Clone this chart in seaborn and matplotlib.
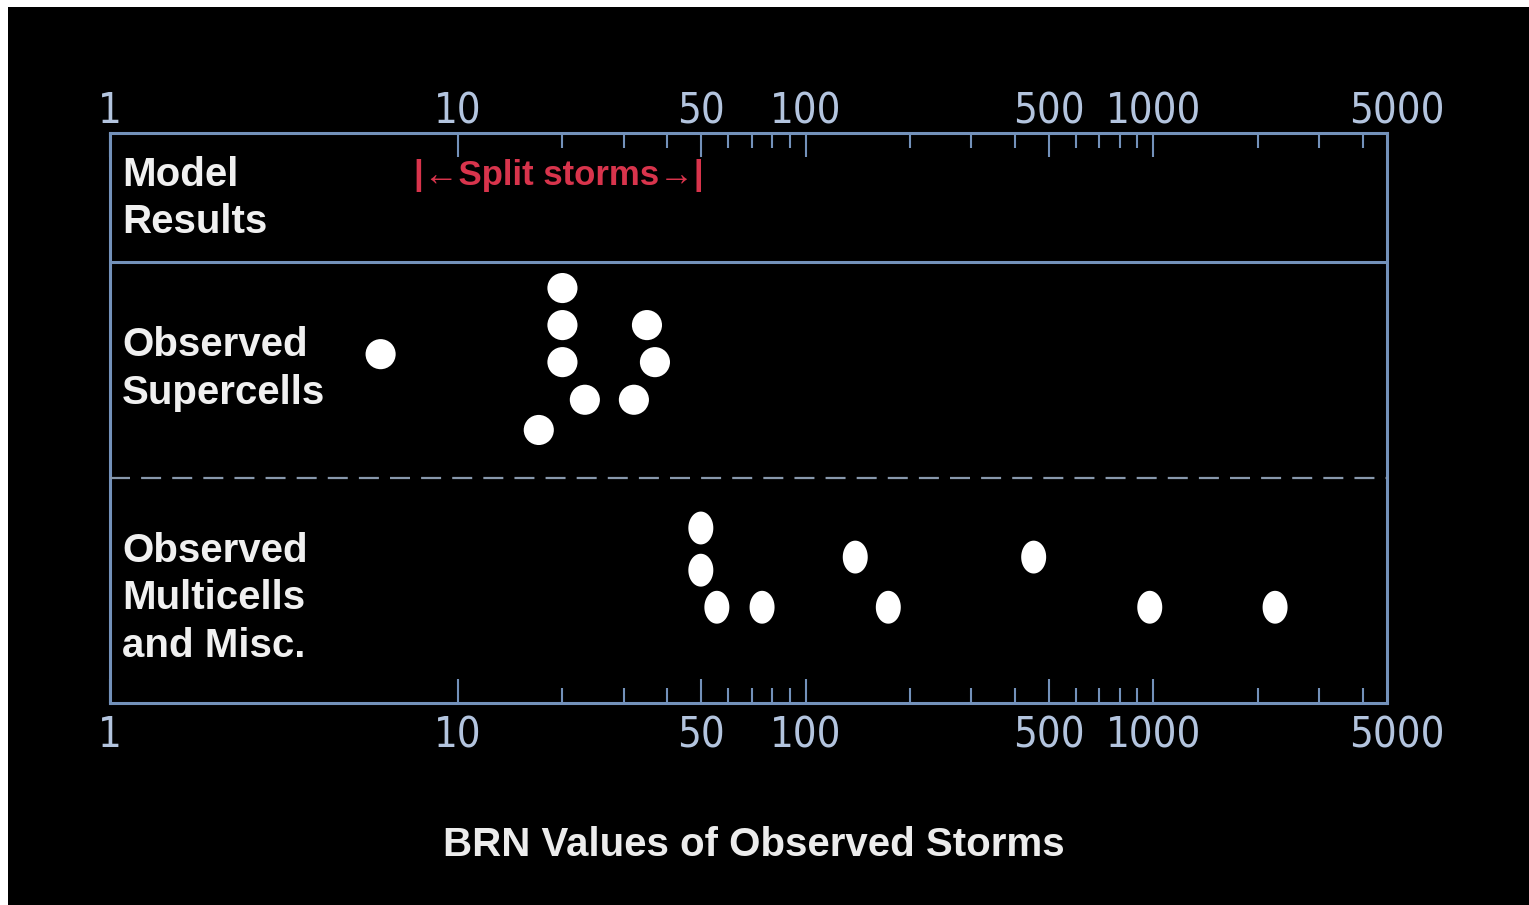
import numpy as np
import pandas as pd
import matplotlib
matplotlib.use("Agg")
import matplotlib.pyplot as plt
from matplotlib.path import Path
from matplotlib.patches import Rectangle
from matplotlib import font_manager as fm
import seaborn as sns

# ---- data ----
super_brn = [6.0, 20, 20, 20, 23.2, 17.1, 35, 36.9, 32.1]
super_lvl = [6.12, 7.28, 6.63, 5.98, 5.32, 4.79, 6.63, 5.98, 5.32]
multi_brn = [50, 50, 55.6, 75, 139, 173, 453, 977, 2240]
multi_lvl = [3.07, 2.33, 1.68, 1.68, 2.56, 1.68, 2.56, 1.68, 1.68]
row_labels = ["Model\nResults", "Observed\nSupercells", "Observed\nMulticells\nand Misc."]
row_centers = [8.85, 5.86, 1.84]
row_solid_sep = 7.74
row_dash_sep = 3.95
major_ticks = [1, 10, 50, 100, 500, 1000]
major_labels = ["1", "10", "50", "100", "500", "1000"]
end_tick, end_label = 5000, "5000"
minor_ticks = [20, 30, 40, 60, 70, 80, 90, 200, 300, 400, 600, 700, 800, 900, 2000, 3000, 4000]
split_label = "|\u2190Split storms\u2192|"
split_center = (19.5, 9.26)
xlabel = "BRN Values of Observed Storms"

sns.set_theme(style="dark")
plt.rcParams['font.family'] = ['Liberation Sans', 'DejaVu Sans']

# narrow font for the tick labels if one is installed
names = {f.name for f in fm.fontManager.ttflist}
cond = [f for f in fm.fontManager.ttflist
        if f.name == 'DejaVu Sans' and 'ondensed' in str(f.stretch) + f.fname and 'Bold' not in f.fname
        and 'Oblique' not in f.fname]
if 'Liberation Sans Narrow' in names:
    tick_font = dict(family='Liberation Sans Narrow', size=31)
elif cond:
    tick_font = dict(fname=cond[0].fname, size=30)
else:
    tick_font = dict(family='Liberation Sans', size=27)
tick_fp = fm.FontProperties(**tick_font)

W, H = 1529, 905
fig = plt.figure(figsize=(W / 100, H / 100), dpi=100, facecolor="white")
fig.patches.append(Rectangle((8 / W, 0), 1 - 8 / W, (H - 7) / H, transform=fig.transFigure,
                             facecolor="black", edgecolor="none", zorder=-10))

ax_h_px = 570
ax = fig.add_axes([110 / W, (H - 703) / H, 1277 / W, ax_h_px / H])
ax.set_facecolor("black")

spine_col = "#7391ba"
tick_lab_col = "#b3c4de"

df_s = pd.DataFrame({"brn": super_brn, "lvl": super_lvl})
df_m = pd.DataFrame({"brn": multi_brn, "lvl": multi_lvl})

sns.scatterplot(data=df_s, x="brn", y="lvl", ax=ax, color="white", s=470,
                edgecolor="none", legend=False, zorder=5)

t = np.linspace(0, 2 * np.pi, 60)
ell = Path(np.column_stack([0.38 * np.cos(t), 0.5 * np.sin(t)]))
sns.scatterplot(data=df_m, x="brn", y="lvl", ax=ax, color="white", s=560, marker=ell,
                edgecolor="none", legend=False, zorder=5)

ax.set_xscale("log")
ax.set_xlim(1, 4700)
ax.set_ylim(0, 10)
ax.set_xlabel("")
ax.set_ylabel("")
ax.set_yticks([])

bot_pad, top_pad = 8, 0.5
ax.set_xticks(major_ticks)
ax.set_xticklabels(major_labels)
ax.set_xticks(minor_ticks, minor=True)
ax.xaxis.set_minor_formatter(matplotlib.ticker.NullFormatter())
ax.tick_params(axis="x", which="major", direction="in", top=True, bottom=True,
               labeltop=False, labelbottom=True, length=17, width=1.5, color=spine_col,
               labelcolor=tick_lab_col, pad=bot_pad)
ax.tick_params(axis="x", which="minor", direction="in", top=True, bottom=True,
               length=11, width=1.5, color=spine_col)
for lab in ax.get_xticklabels():
    lab.set_fontproperties(tick_fp)
ax.grid(False)

sec = ax.secondary_xaxis("top")
sec.set_xticks(major_ticks)
sec.set_xticklabels(major_labels)
sec.xaxis.set_minor_locator(matplotlib.ticker.NullLocator())
sec.tick_params(axis="x", length=0, pad=top_pad, labelcolor=tick_lab_col)
for lab in sec.get_xticklabels():
    lab.set_fontproperties(tick_fp)
for sp in sec.spines.values():
    sp.set_visible(False)

trans = ax.get_xaxis_transform()
ax.text(end_tick, -bot_pad * 100 / 72 / ax_h_px, end_label, transform=trans, ha="center", va="top",
        color=tick_lab_col, fontproperties=tick_fp, clip_on=False)
ax.text(end_tick, 1 + top_pad * 100 / 72 / ax_h_px, end_label, transform=trans, ha="center",
        va="bottom", color=tick_lab_col, fontproperties=tick_fp, clip_on=False)

for sp in ax.spines.values():
    sp.set_visible(True)
    sp.set_color(spine_col)
    sp.set_linewidth(2.2)

ax.axhline(row_solid_sep, color=spine_col, lw=2.2, zorder=3)
ax.axhline(row_dash_sep, color="#8898ac", lw=1.6, dashes=(9, 5), zorder=3)

for lab, yc in zip(row_labels, row_centers):
    ax.text(0.0094, yc, lab, transform=ax.get_yaxis_transform(), ha="left", va="center",
            fontsize=29, fontweight="bold", color="#f0f0f0", linespacing=1.32)

ax.text(split_center[0], split_center[1], split_label, ha="center", va="center",
        fontsize=25, fontweight="bold", color="#d8344c")

fig.text(754 / W, (H - 845) / H, xlabel, ha="center", va="center", fontsize=29,
         fontweight="bold", color="#ececec")

fig.savefig("out.png", dpi=100, facecolor=fig.get_facecolor())
